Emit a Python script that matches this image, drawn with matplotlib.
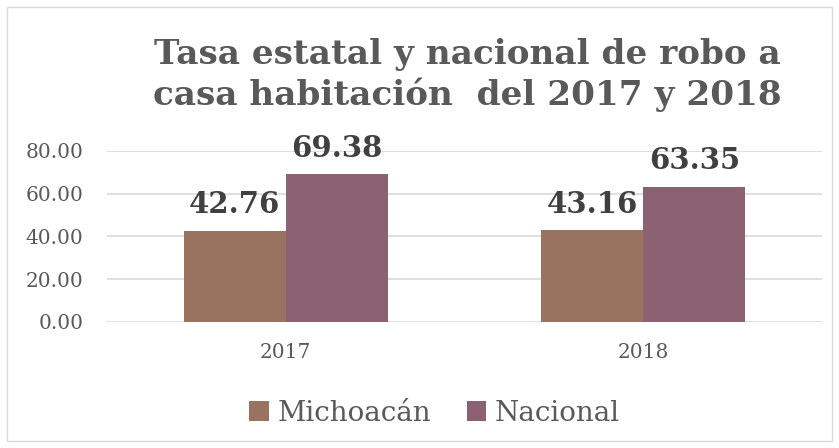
import matplotlib.pyplot as plt
import numpy as np
from matplotlib.patches import Rectangle

years = ['2017', '2018']
michoacan = [42.76, 43.16]
nacional = [69.38, 63.35]
series_names = ['Michoacán', 'Nacional']
colors = ['#9a7360', '#8c6272']
yticks = [0, 20, 40, 60, 80]

plt.rcParams['font.family'] = ['DejaVu Serif']

fig = plt.figure(figsize=(8.39, 4.48), dpi=100)
fig.patches.append(Rectangle((0.008, 0.016), 0.984, 0.968, transform=fig.transFigure,
                             fill=False, edgecolor='#d9d9d9', linewidth=1))
ax = fig.add_axes([0.1275, 0.2813, 0.8525, 0.3817])

x = np.arange(len(years))
w = 0.285
b1 = ax.bar(x - w / 2, michoacan, w, color=colors[0], label=series_names[0])
b2 = ax.bar(x + w / 2, nacional, w, color=colors[1], label=series_names[1])

for bars in (b1, b2):
    for rect in bars:
        h = rect.get_height()
        ax.annotate(f'{h:.2f}', (rect.get_x() + rect.get_width() / 2, h),
                    xytext=(0, 8), textcoords='offset points', ha='center', va='bottom',
                    fontsize=21, fontweight='bold', color='#404040')

ax.set_xlim(-0.5, 1.5)
ax.set_ylim(0, 80)
ax.set_yticks(yticks)
ax.set_yticklabels([f'{v:.2f}' for v in yticks], fontsize=14.5, color='#595959')
ax.set_xticks(x)
ax.set_xticklabels(years, fontsize=14.5, color='#595959')
ax.tick_params(length=0, axis='y', pad=17)
ax.tick_params(length=0, axis='x', pad=15)
ax.grid(axis='y', color='#d9d9d9', linewidth=1.2)
ax.set_axisbelow(True)
for s in ax.spines.values():
    s.set_visible(False)

fig.text(0.557, 0.833, 'Tasa estatal y nacional de robo a\ncasa habitación  del 2017 y 2018',
         ha='center', va='center', fontsize=24.7, fontweight='bold', color='#595959',
         linespacing=1.25)

fig.legend(handles=[b1, b2], labels=series_names, loc='center', bbox_to_anchor=(0.518, 0.078),
           ncol=2, frameon=False, fontsize=20, labelcolor='#595959', handlelength=0.7,
           handleheight=0.7, handletextpad=0.3, columnspacing=1.3)

fig.savefig('out.png', dpi=100)
